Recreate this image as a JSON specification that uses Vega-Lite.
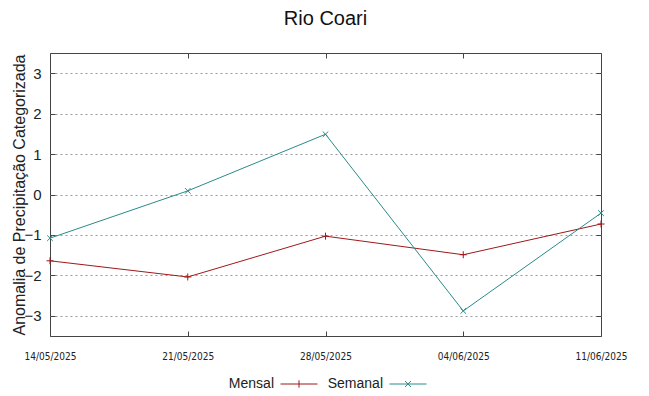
{
  "$schema": "https://vega.github.io/schema/vega-lite/v6.json",
  "autosize": "none",
  "width": 551,
  "height": 283,
  "padding": {"left": 50, "top": 53, "right": 48, "bottom": 60},
  "title": {"text": "Rio Coari", "font": "Liberation Sans", "fontSize": 20, "fontWeight": "normal", "color": "#111111", "offset": 24, "anchor": "middle"},
  "config": {
    "view": {"stroke": "#444444", "strokeWidth": 1},
    "font": "Liberation Sans"
  },
  "data": {"values": [
    {"data": "14/05/2025", "serie": "Mensal", "valor": -1.64},
    {"data": "21/05/2025", "serie": "Mensal", "valor": -2.04},
    {"data": "28/05/2025", "serie": "Mensal", "valor": -1.03},
    {"data": "04/06/2025", "serie": "Mensal", "valor": -1.49},
    {"data": "11/06/2025", "serie": "Mensal", "valor": -0.73},
    {"data": "14/05/2025", "serie": "Semanal", "valor": -1.08},
    {"data": "21/05/2025", "serie": "Semanal", "valor": 0.09},
    {"data": "28/05/2025", "serie": "Semanal", "valor": 1.49},
    {"data": "04/06/2025", "serie": "Semanal", "valor": -2.88},
    {"data": "11/06/2025", "serie": "Semanal", "valor": -0.46}
  ]},
  "layer": [
    {
      "mark": {"type": "line", "strokeWidth": 1},
      "encoding": {
        "x": {"field": "data", "type": "ordinal", "sort": null,
              "scale": {"type": "point", "padding": 0},
              "axis": {"title": null, "labelAngle": 0, "labelFont": "DejaVu Sans Condensed, Liberation Sans", "labelFontSize": 10, "labelColor": "#222222", "labelPadding": 20, "tickSize": -5, "tickColor": "#444444", "domain": false, "grid": false}},
        "y": {"field": "valor", "type": "quantitative",
              "scale": {"domain": [-3.5, 3.5], "nice": false, "zero": false},
              "axis": {"title": "Anomalia de Precipitação Categorizada", "titleFont": "Liberation Sans", "titleFontSize": 16, "titleFontWeight": "normal", "titleColor": "#222222", "titlePadding": -4,
                       "values": [-3, -2, -1, 0, 1, 2, 3], "labelFontSize": 15, "labelColor": "#222222", "labelPadding": 14, "tickSize": -5, "tickColor": "#444444", "domain": false,
                       "grid": true, "gridDash": [2, 3], "gridColor": "#999999", "gridWidth": 1}},
        "color": {"field": "serie", "type": "nominal", "scale": {"domain": ["Mensal", "Semanal"], "range": ["#a01818", "#2a8a8a"]}, "legend": null}
      }
    },
    {
      "mark": {"type": "point", "filled": false, "strokeWidth": 1, "opacity": 1, "size": 49},
      "encoding": {
        "x": {"field": "data", "type": "ordinal", "sort": null,
              "scale": {"type": "point", "padding": 0},
              "axis": {"orient": "top", "title": null, "labels": false, "tickSize": -5, "tickColor": "#444444", "domain": false, "grid": false}},
        "y": {"field": "valor", "type": "quantitative",
              "scale": {"domain": [-3.5, 3.5], "nice": false, "zero": false},
              "axis": {"orient": "right", "title": null, "labels": false, "values": [-3, -2, -1, 0, 1, 2, 3], "tickSize": -5, "tickColor": "#444444", "domain": false, "grid": false}},
        "color": {"field": "serie", "type": "nominal", "scale": {"domain": ["Mensal", "Semanal"], "range": ["#a01818", "#2a8a8a"]}, "legend": null},
        "shape": {"field": "serie", "type": "nominal", "scale": {"domain": ["Mensal", "Semanal"], "range": ["M-1,0L1,0M0,-1L0,1", "M-0.8,-0.8L0.8,0.8M-0.8,0.8L0.8,-0.8"]}, "legend": null}
      }
    },
    {
      "mark": {"type": "point", "filled": false, "strokeWidth": 1, "opacity": 0, "size": 1369},
      "encoding": {
        "x": {"field": "data", "type": "ordinal", "sort": null, "scale": {"type": "point", "padding": 0}, "axis": null},
        "y": {"field": "valor", "type": "quantitative", "scale": {"domain": [-3.5, 3.5], "nice": false, "zero": false}, "axis": null},
        "color": {"field": "serie", "type": "nominal", "title": null, "scale": {"domain": ["Mensal", "Semanal"], "range": ["#a01818", "#2a8a8a"]}},
        "shape": {"field": "serie", "type": "nominal", "title": null, "scale": {"domain": ["Mensal", "Semanal"], "range": ["M-1,0L1,0M0,-0.2L0,0.2", "M-1,0L1,0M-0.16,-0.16L0.16,0.16M-0.16,0.16L0.16,-0.16"]},
                  "legend": {"orient": "none", "legendX": 230, "legendY": 312, "direction": "horizontal", "symbolOpacity": 1, "symbolSize": 1369, "symbolStrokeWidth": 1, "labelFontSize": 14, "labelColor": "#222222", "labelAlign": "right", "labelOffset": -44, "columnPadding": 7}}
      }
    }
  ],
  "resolve": {"scale": {"shape": "independent", "color": "independent"}, "axis": {"x": "independent", "y": "independent"}}
}
